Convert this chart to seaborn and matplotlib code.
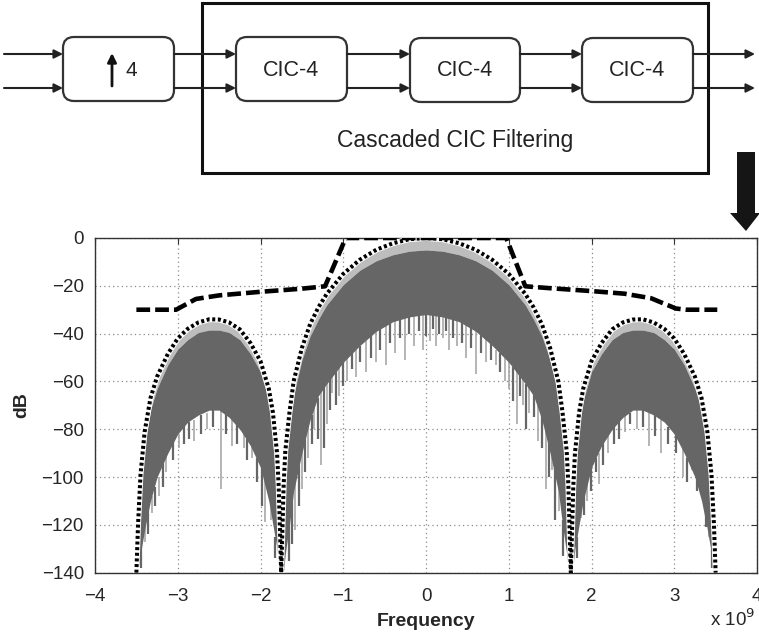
import numpy as np
import pandas as pd
import matplotlib
matplotlib.use("Agg")
import matplotlib.pyplot as plt
import seaborn as sns
from matplotlib.patches import Rectangle, FancyBboxPatch, Polygon

# ---------------- data (frequency in units of 1e9 Hz, level in dB) ----------------
x_ticks = [-4, -3, -2, -1, 0, 1, 2, 3, 4]
y_ticks = [0, -20, -40, -60, -80, -100, -120, -140]

left_f = [-3.50, -3.48, -3.45, -3.40, -3.33, -3.25, -3.12, -3.00, -2.88, -2.75, -2.62,
          -2.50, -2.38, -2.25, -2.12, -2.00, -1.90, -1.85, -1.80, -1.78, -1.76, -1.75]
left_env = [-140, -120, -99, -81, -67, -58, -48.5, -42, -38, -35.3, -34,
            -34.1, -35.3, -38.2, -44, -51.5, -63, -73, -90, -104, -128, -140]
left_top = [-140, -126, -105, -87, -72, -63, -53, -46.5, -42.5, -39.5, -38.5,
            -38.5, -39.5, -42.5, -48.5, -56, -68, -78, -95, -110, -134, -140]
left_bot = [-140, -139, -132, -122, -110, -100, -90, -82, -77, -74, -72,
            -72, -75, -80, -87, -96, -110, -120, -130, -136, -140, -140]

main_f = [-1.75, -1.74, -1.72, -1.70, -1.65, -1.60, -1.50, -1.40, -1.30, -1.20, -1.00,
          -0.80, -0.60, -0.40, -0.20, 0.00, 0.20, 0.40, 0.60, 0.80, 1.00,
          1.20, 1.30, 1.40, 1.50, 1.60, 1.65, 1.70, 1.72, 1.74, 1.75]
main_env = [-140, -128, -103, -89, -73, -60, -46, -36, -29, -23.4, -15,
            -9.1, -4.9, -2.2, -0.5, 0, -0.5, -2.2, -4.9, -9.1, -15,
            -23.4, -29, -36, -46, -60, -73, -89, -103, -128, -140]
main_top = [-140, -134, -110, -95, -79, -66, -51, -41, -34, -28, -19.5,
            -13.5, -9.5, -7, -5.5, -5, -5.5, -7, -9.5, -13.5, -19.5,
            -28, -34, -41, -51, -66, -79, -95, -110, -134, -140]
main_bot = [-140, -140, -139, -132, -120, -106, -90, -76, -66, -61, -52,
            -45, -39, -35, -33, -32, -33, -35, -39, -45, -52,
            -61, -66, -76, -90, -106, -120, -132, -139, -140, -140]

right_f = [1.75, 1.76, 1.78, 1.80, 1.85, 1.90, 2.00, 2.12, 2.25, 2.38, 2.50,
           2.62, 2.75, 2.88, 3.00, 3.12, 3.25, 3.33, 3.40, 3.45, 3.48, 3.50]
right_env = [-140, -128, -104, -90, -73, -63, -51.5, -44, -38.2, -35.3, -34.1,
             -34, -35.3, -38, -42, -48.5, -58, -67, -81, -99, -120, -140]
right_top = [-140, -134, -110, -95, -78, -68, -56, -48.5, -42.5, -39.5, -38.5,
             -38.5, -39.5, -42.5, -46.5, -53, -63, -72, -87, -105, -126, -140]
right_bot = [-140, -140, -136, -130, -120, -110, -96, -87, -80, -75, -72,
             -72, -74, -77, -82, -90, -100, -110, -122, -132, -139, -140]

# deep light-grey spikes reaching below the dense band
spike_f = [-3.40, -3.31, -3.23, -3.14, -2.99, -2.80, -2.65, -2.48, -2.35, -2.20, -2.10, -1.94, -1.87,
           -1.58, -1.50, -1.42, -1.35, -1.27, -1.20, -1.13, -1.05, -0.95, -0.85, -0.73, -0.60,
           -0.48, -0.38, -0.25, -0.15, -0.04, 0.05, 0.12, 0.20, 0.28, 0.38, 0.48, 0.60, 0.72,
           0.85, 0.95, 1.00, 1.10, 1.17, 1.25, 1.35, 1.45, 1.52, 1.61,
           1.87, 1.95, 2.09, 2.20, 2.40, 2.55, 2.70, 2.84, 3.10, 3.22, 3.33, 3.42]
spike_top = [-120, -108, -100, -90, -82, -76, -73, -72, -74, -80, -85, -100, -112,
             -100, -88, -78, -70, -64, -60, -57, -54, -50, -47, -43, -38,
             -36, -34, -33, -32, -31, -31, -32, -32, -33, -34, -36, -38, -42,
             -47, -50, -51, -56, -59, -62, -68, -80, -90, -104,
             -112, -102, -90, -82, -74, -72, -73, -76, -88, -95, -105, -118]
spike_bot = [-127, -115, -108, -98, -88, -85, -80, -105, -87, -88, -92, -119, -118,
             -122, -105, -92, -80, -95, -78, -65, -66, -60, -58, -56, -52,
             -53, -48, -51, -45, -47, -43, -45, -42, -47, -45, -50, -57, -52,
             -53, -60, -63, -78, -70, -73, -85, -105, -97, -114,
             -117, -110, -103, -90, -81, -80, -87, -90, -100, -97, -108, -125]

# shorter dark-grey ripples on the lower edge of the dense band
ripple_f = [-3.45, -3.36, -3.27, -3.18, -3.06, -2.92, -2.86, -2.72, -2.58, -2.42, -2.28, -2.16,
            -2.04, -1.98, -1.82,
            -1.66, -1.62, -1.54, -1.46, -1.38, -1.31, -1.23, -1.16, -1.09, -1.00, -0.90, -0.80,
            -0.66, -0.55, -0.43, -0.32, -0.20, -0.09, 0.00, 0.09, 0.16, 0.24, 0.33, 0.43, 0.54,
            0.66, 0.78, 0.90, 1.05, 1.14, 1.21, 1.30, 1.40, 1.49, 1.56, 1.66,
            1.82, 1.91, 1.99, 2.05, 2.14, 2.27, 2.33, 2.47, 2.62, 2.77, 2.93, 3.02, 3.16, 3.28,
            3.38, 3.46]
ripple_top = [-128, -114, -104, -94, -85, -78, -77, -74, -72, -73, -78, -84,
              -92, -96, -125,
              -118, -108, -95, -84, -74, -67, -62, -58, -55, -52, -48, -45,
              -40, -37, -35, -34, -32, -31, -31, -31, -32, -32, -33, -35, -37,
              -40, -44, -48, -54, -57, -61, -65, -72, -84, -96, -118,
              -125, -107, -96, -92, -85, -79, -76, -73, -72, -74, -79, -82, -92, -100,
              -114, -130]
ripple_bot = [-138, -124, -112, -104, -93, -86, -84, -82, -79, -82, -86, -93,
              -102, -112, -134,
              -135, -128, -112, -98, -86, -84, -88, -72, -70, -62, -55, -52,
              -50, -47, -44, -42, -40, -39, -41, -38, -40, -39, -42, -44, -46,
              -48, -51, -56, -68, -66, -80, -75, -88, -100, -118, -133,
              -134, -116, -106, -98, -95, -86, -84, -78, -79, -83, -86, -90, -102, -106,
              -121, -138]

# spectral mask (dashed)
mask_f = [-3.50, -3.02, -2.78, -2.50, -2.00, -1.50, -1.22, -0.97, 0.97, 1.20, 1.50,
          2.00, 2.40, 2.72, 3.02, 3.15, 3.52]
mask_db = [-30, -30, -25.5, -24, -22.5, -21.2, -20.2, 0, 0, -20.2, -21,
           -22.2, -23.3, -25.2, -29.5, -30, -30]

block_labels = ["CIC-4", "CIC-4", "CIC-4"]
group_label = "Cascaded CIC Filtering"

# ---------------- style ----------------
sns.set_style("white")
plt.rcParams['font.family'] = ['Liberation Sans', 'DejaVu Sans']
plt.rcParams['axes.unicode_minus'] = True

W, H = 759, 640
fig = plt.figure(figsize=(W / 100, H / 100), dpi=100)

ax = fig.add_axes([95 / W, 1 - 572.7 / H, (757 - 95) / W, (572.7 - 238) / H])

DENSE = '#666666'
FRINGE = '#bdbdbd'
SPIKE = '#a0a0a0'

lobes = [(left_f, left_env, left_top, left_bot),
         (main_f, main_env, main_top, main_bot),
         (right_f, right_env, right_top, right_bot)]
for f, env, top, bot in lobes:
    ax.fill_between(f, top, env, color=FRINGE, lw=0, zorder=2)
ax.vlines(spike_f, spike_top, spike_bot, color=SPIKE, lw=1.1, zorder=2.5)
ax.vlines(ripple_f, ripple_top, ripple_bot, color=DENSE, lw=1.6, zorder=3)
for f, env, top, bot in lobes:
    ax.fill_between(f, bot, top, color=DENSE, lw=0, zorder=3)

env_df = pd.DataFrame({"f": left_f + main_f + right_f,
                       "dB": left_env + main_env + right_env})
# white halo under the dotted envelope
sns.lineplot(data=env_df, x="f", y="dB", ax=ax, estimator=None, sort=False,
             color='white', lw=4.2, zorder=3.8)
sns.lineplot(data=env_df, x="f", y="dB", ax=ax, estimator=None, sort=False,
             color='black', lw=2.9, zorder=4)
ax.lines[-1].set_dashes([0.75, 0.65])
ax.lines[-1].set_dash_capstyle('butt')

mask_df = pd.DataFrame({"f": mask_f, "dB": mask_db})
sns.lineplot(data=mask_df, x="f", y="dB", ax=ax, estimator=None, sort=False,
             color='black', lw=3.3, zorder=5)
ax.lines[-1].set_dashes([3.0, 1.1])

ax.set_xlim(-4, 4)
ax.set_ylim(-140, 0)
ax.set_xticks(x_ticks)
ax.set_yticks(y_ticks)
ax.set_axisbelow(True)
ax.grid(True, color='#8a8a8a', linestyle=(0, (1, 2.5)), lw=0.9)
for s in ax.spines.values():
    s.set_color('#333333')
    s.set_linewidth(1.0)
    s.set_visible(True)
ax.tick_params(direction='in', length=4, top=True, right=True, labelsize=13.5,
               color='#333333', pad=8)
ax.tick_params(axis='x', pad=11)
ax.set_xlabel("Frequency", fontsize=14, fontweight='bold', labelpad=6)
ax.set_ylabel("dB", fontsize=14, fontweight='bold', labelpad=8)
fig.text(710 / W, 1 - 619 / H, r"x 10$^{9}$", fontsize=13.5, ha='left', va='center')

# ---------------- block diagram overlay ----------------
ov = fig.add_axes([0, 0, 1, 1], zorder=10)
ov.set_xlim(0, W)
ov.set_ylim(H, 0)
ov.axis('off')
ov.patch.set_alpha(0)

LC = '#222222'
ov.add_patch(Rectangle((202, 3), 708 - 202, 173 - 3, fill=False, ec='#111111', lw=2.2))

boxes = [(63, 37, 174, 101), (236, 37, 347, 101), (410, 38, 520, 102), (582, 38, 693, 102)]
for x0, y0, x1, y1 in boxes:
    ov.add_patch(FancyBboxPatch((x0, y0), x1 - x0, y1 - y0,
                                boxstyle="round,pad=0,rounding_size=11",
                                fill=True, fc='white', ec='#333333', lw=1.6))

segments = [(4, 63), (174, 236), (347, 410), (520, 582), (693, 755)]
for ya in (54, 88):
    for xa, xb in segments:
        ov.annotate('', xy=(xb, ya), xytext=(xa, ya),
                    arrowprops=dict(arrowstyle='-|>', color=LC, lw=1.5,
                                    mutation_scale=13, shrinkA=0, shrinkB=0))

# upsampler symbol
ov.annotate('', xy=(112, 53), xytext=(112, 86),
            arrowprops=dict(arrowstyle='-|>', color='#111111', lw=2.0,
                            mutation_scale=13, shrinkA=0, shrinkB=0))
ov.text(126, 71, "4", fontsize=15, ha='left', va='center', color='#222222')

for (x0, y0, x1, y1), lab in zip(boxes[1:], block_labels):
    ov.text((x0 + x1) / 2, (y0 + y1) / 2 + 1, lab, fontsize=15.5, ha='center',
            va='center', color='#222222')

ov.text(455, 141, group_label, fontsize=16.5, ha='center', va='center', color='#222222')

# big downward arrow
ov.add_patch(Polygon([(737, 152), (755, 152), (755, 213), (760, 213), (746, 231),
                      (730, 213), (737, 213)], closed=True, fc='#151515', ec='none'))

fig.savefig("out.png", dpi=100)
